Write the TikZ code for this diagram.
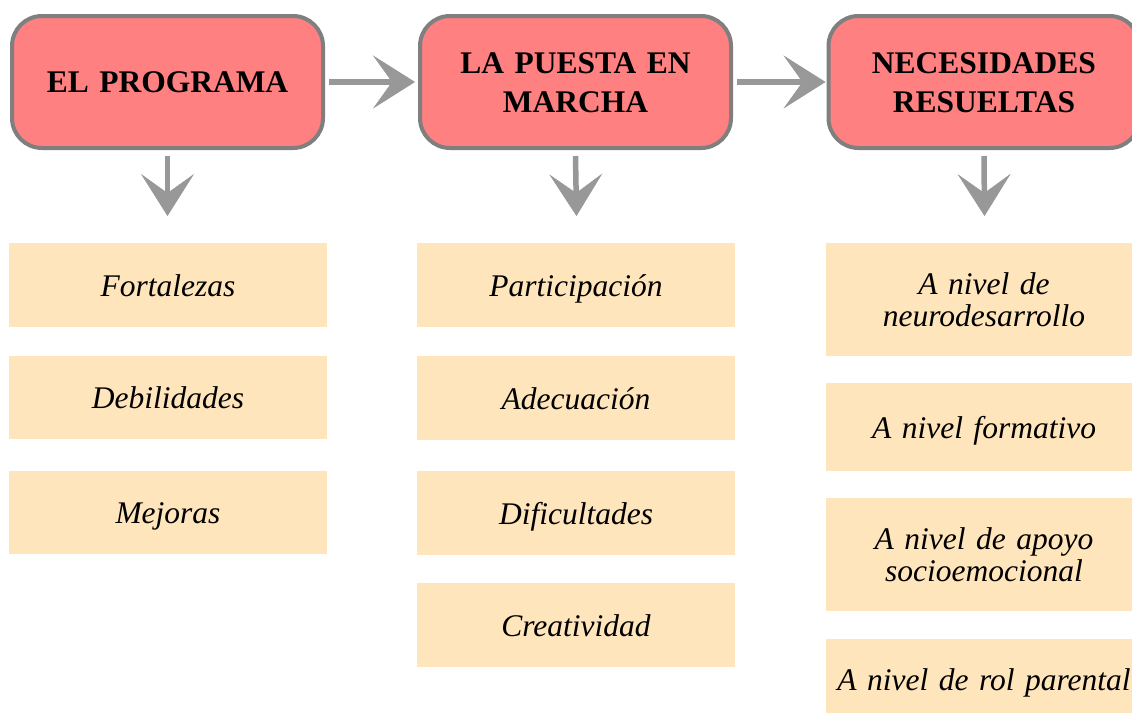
\documentclass[tikz,border=0pt]{standalone}
\usepackage{fontspec}
\setmainfont{Liberation Serif}
\usetikzlibrary{arrows.meta}
\definecolor{salmon}{RGB}{255,128,128}
\definecolor{boxgray}{RGB}{127,127,127}
\definecolor{beige}{RGB}{255,229,187}
\definecolor{arrowgray}{RGB}{152,152,152}
\tikzset{
  titlebox/.style={draw=boxgray, line width=4pt, fill=salmon, rounded corners=30pt,
    minimum width=311pt, minimum height=132pt, inner sep=0pt, align=center, text width=300pt,
    font=\fontsize{31.5}{39}\selectfont\bfseries,
    execute at begin node={\rule{0pt}{33.3pt}}, execute at end node={\strut}},
  itembox/.style={fill=beige, inner sep=0pt, align=center, text width=310pt,
    font=\fontsize{31.5}{32}\selectfont\itshape,
    execute at begin node={\rule{0pt}{32.4pt}}, execute at end node={\strut}},
  flowarrow/.style={draw=arrowgray, line width=5.5pt,
    -{Stealth[length=42pt,width=53pt,inset=19pt,line width=0.5pt]}}
}
\begin{document}
\begin{tikzpicture}[x=1pt,y=-1pt]
\clip (0,0) rectangle (1132,712);
\fill[white] (0,0) rectangle (1132,712);
% title boxes
\node[titlebox] (b1) at (167.5,82) {EL PROGRAMA};
\node[titlebox] (b2) at (575.5,82) {LA PUESTA EN\\MARCHA};
\node[titlebox] (b3) at (984,82) {NECESIDADES\\RESUELTAS};
% horizontal arrows
\draw[flowarrow] ([xshift=4pt]b1.east) -- ([xshift=-3pt]b2.west);
\draw[flowarrow] ([xshift=4pt]b2.east) -- ([xshift=-1pt]b3.west);
% down arrows
\coordinate (t1) at (167.5,216);
\coordinate (t2) at (576.5,216);
\coordinate (t3) at (984.5,216);
\draw[flowarrow] ([yshift=-6pt]b1.south) -- (t1);
\draw[flowarrow] ([yshift=-6pt]b2.south) -- (t2);
\draw[flowarrow] ([yshift=-6pt]b3.south) -- (t3);
% column 1
\node[itembox, minimum width=318pt, minimum height=84pt] (f1) at (168,285) {Fortalezas};
\node[itembox, minimum width=318pt, minimum height=83pt] (f2) at (168,397.5) {Debilidades};
\node[itembox, minimum width=318pt, minimum height=83pt] (f3) at (168,512.5) {Mejoras};
% column 2
\node[itembox, minimum width=318pt, minimum height=84pt] (p1) at (576,285) {Participación};
\node[itembox, minimum width=318pt, minimum height=84pt] (p2) at (576,398) {Adecuación};
\node[itembox, minimum width=318pt, minimum height=84pt] (p3) at (576,513) {Dificultades};
\node[itembox, minimum width=318pt, minimum height=84pt] (p4) at (576,625) {Creatividad};
% column 3
\node[itembox, minimum width=316pt, minimum height=113pt] (n1) at (984,299.5) {A nivel de\\neurodesarrollo};
\node[itembox, minimum width=316pt, minimum height=88pt] (n2) at (984,427) {A nivel formativo};
\node[itembox, minimum width=316pt, minimum height=113pt] (n3) at (984,554.5) {A nivel de apoyo\\socioemocional};
\node[itembox, minimum width=316pt, minimum height=81pt] (n4) at (984,679.5) {A nivel de rol parental};
\end{tikzpicture}
\end{document}
